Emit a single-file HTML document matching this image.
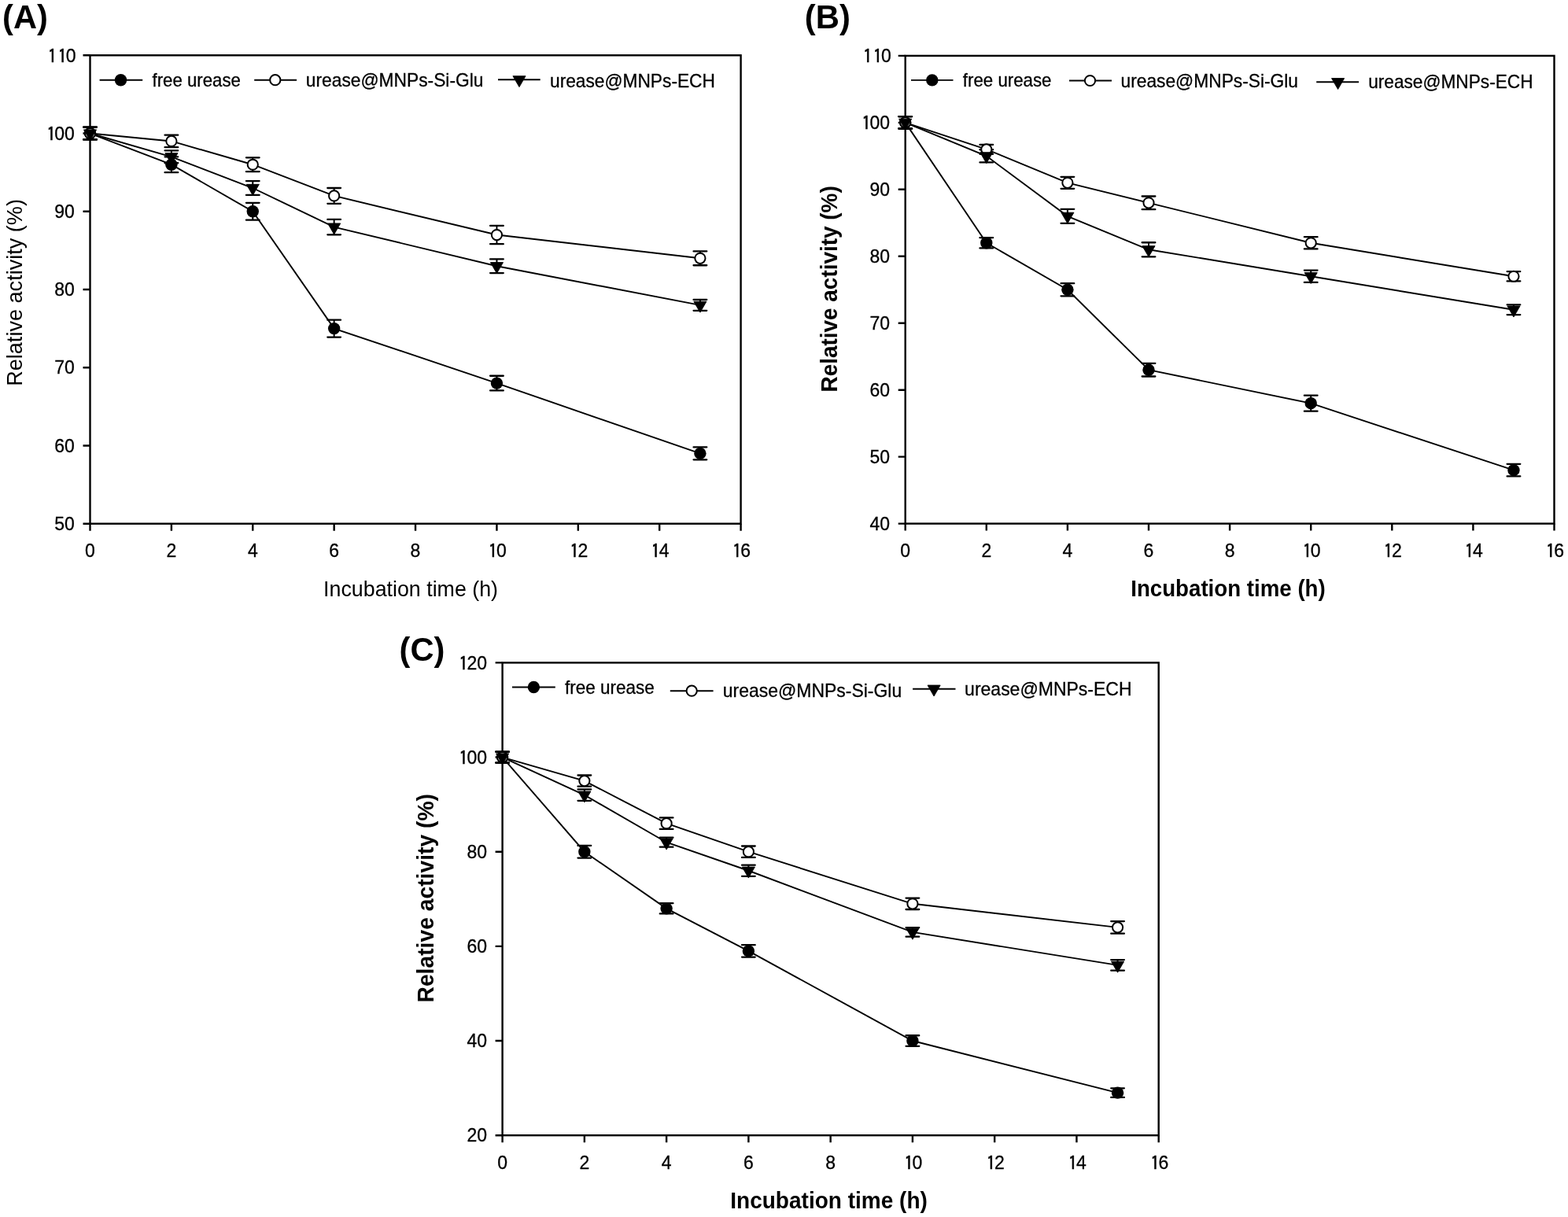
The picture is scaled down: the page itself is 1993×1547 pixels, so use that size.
<!DOCTYPE html>
<html><head><meta charset="utf-8"><title>Relative activity vs incubation time</title>
<style>html,body{margin:0;padding:0;background:#fff;width:1993px;height:1547px;overflow:hidden}svg{display:block}
text{font-family:"Liberation Sans",Arial,sans-serif;fill:#000}text.r{stroke:#000;stroke-width:.3px}tspan.one{font-family:IPAGothic,"Liberation Sans",sans-serif;font-size:23.3px;stroke-width:.5px}</style></head>
<body><svg width="1993" height="1547" viewBox="0 0 1993 1547">
<rect width="1993" height="1547" fill="#fff"/>
<text x="3.12" y="35.7" font-size="42.7" font-weight="bold" textLength="57.68" lengthAdjust="spacingAndGlyphs">(A)</text>
<text x="1022.81" y="35.6" font-size="42.7" font-weight="bold" textLength="58.01" lengthAdjust="spacingAndGlyphs">(B)</text>
<text x="507.52" y="840.1" font-size="42.7" font-weight="bold" textLength="57.79" lengthAdjust="spacingAndGlyphs">(C)</text>
<rect x="114.5" y="70.3" width="827.1" height="595.4" fill="none" stroke="#000" stroke-width="2.4"/>
<path d="M114.5 665.7v9M217.89 665.7v9M321.27 665.7v9M424.66 665.7v9M528.05 665.7v9M631.44 665.7v9M734.83 665.7v9M838.21 665.7v9M941.6 665.7v9M114.5 665.7h-9M114.5 566.47h-9M114.5 467.23h-9M114.5 368h-9M114.5 268.77h-9M114.5 169.53h-9M114.5 70.3h-9" stroke="#000" stroke-width="2.4" fill="none"/>
<text class="r" x="108.12" y="708" font-size="23">0</text>
<text class="r" x="211.5" y="708" font-size="23">2</text>
<text class="r" x="314.95" y="708" font-size="23">4</text>
<text class="r" x="418.22" y="708" font-size="23">6</text>
<text class="r" x="521.61" y="708" font-size="23">8</text>
<text class="r" x="620.87 631.06" y="709.15 708" font-size="23"><tspan class="one">1</tspan>0</text>
<text class="r" x="724.37 734.56" y="709.15 708" font-size="23"><tspan class="one">1</tspan>2</text>
<text class="r" x="827.53 837.72" y="709.15 708" font-size="23"><tspan class="one">1</tspan>4</text>
<text class="r" x="931.09 941.28" y="709.15 708" font-size="23"><tspan class="one">1</tspan>6</text>
<text class="r" x="69.29 82.08" y="673.9 673.9" font-size="23">50</text>
<text class="r" x="69.29 82.08" y="574.67 574.67" font-size="23">60</text>
<text class="r" x="69.29 82.08" y="475.43 475.43" font-size="23">70</text>
<text class="r" x="69.29 82.08" y="376.2 376.2" font-size="23">80</text>
<text class="r" x="69.29 82.08" y="276.97 276.97" font-size="23">90</text>
<text class="r" x="59.13 69.32 82.11" y="178.88 177.73 177.73" font-size="23"><tspan class="one">1</tspan>00</text>
<text class="r" x="60.74 73.53 83.72" y="79.65 79.65 78.5" font-size="23"><tspan class="one">1</tspan><tspan class="one">1</tspan>0</text>
<path d="M114.5 161.59V177.47M217.89 199.3V219.15M321.27 257.85V279.68M424.66 406.7V428.53M631.44 477.75V496.41M889.91 568.45V584.33" stroke="#000" stroke-width="2" fill="none"/>
<path d="M106.15 161.59h16.7M106.15 177.47h16.7M209.54 199.3h16.7M209.54 219.15h16.7M312.92 257.85h16.7M312.92 279.68h16.7M416.31 406.7h16.7M416.31 428.53h16.7M623.09 477.75h16.7M623.09 496.41h16.7M881.56 568.45h16.7M881.56 584.33h16.7" stroke="#000" stroke-width="2.3" fill="none" stroke-linecap="round"/>
<path d="M114.5 161.59V177.47M217.89 171.72V187.2M321.27 200.3V218.16M424.66 239V258.84M631.44 286.93V310.15M889.91 319.38V337.24" stroke="#000" stroke-width="2" fill="none"/>
<path d="M106.15 161.59h16.7M106.15 177.47h16.7M209.54 171.72h16.7M209.54 187.2h16.7M312.92 200.3h16.7M312.92 218.16h16.7M416.31 239h16.7M416.31 258.84h16.7M623.09 286.93h16.7M623.09 310.15h16.7M881.56 319.38h16.7M881.56 337.24h16.7" stroke="#000" stroke-width="2.3" fill="none" stroke-linecap="round"/>
<path d="M114.5 161.59V177.47M217.89 191.36V207.24M321.27 230.07V247.93M424.66 278.89V298.34M631.44 329.4V347.06M889.91 380.9V394.79" stroke="#000" stroke-width="2" fill="none"/>
<path d="M106.15 161.59h16.7M106.15 177.47h16.7M209.54 191.36h16.7M209.54 207.24h16.7M312.92 230.07h16.7M312.92 247.93h16.7M416.31 278.89h16.7M416.31 298.34h16.7M623.09 329.4h16.7M623.09 347.06h16.7M881.56 380.9h16.7M881.56 394.79h16.7" stroke="#000" stroke-width="2.3" fill="none" stroke-linecap="round"/>
<polyline points="114.5,169.53 217.89,209.23 321.27,268.77 424.66,417.62 631.44,487.08 889.91,576.39" fill="none" stroke="#000" stroke-width="1.9"/>
<polyline points="114.5,169.53 217.89,179.46 321.27,209.23 424.66,248.92 631.44,298.54 889.91,328.31" fill="none" stroke="#000" stroke-width="1.9"/>
<polyline points="114.5,169.53 217.89,199.3 321.27,239 424.66,288.61 631.44,338.23 889.91,387.85" fill="none" stroke="#000" stroke-width="1.9"/>
<circle cx="114.5" cy="169.53" r="7.7" fill="#000"/>
<circle cx="217.89" cy="209.23" r="7.7" fill="#000"/>
<circle cx="321.27" cy="268.77" r="7.7" fill="#000"/>
<circle cx="424.66" cy="417.62" r="7.7" fill="#000"/>
<circle cx="631.44" cy="487.08" r="7.7" fill="#000"/>
<circle cx="889.91" cy="576.39" r="7.7" fill="#000"/>
<circle cx="114.5" cy="169.53" r="6.6" fill="#fff" stroke="#000" stroke-width="2"/>
<circle cx="217.89" cy="179.46" r="6.6" fill="#fff" stroke="#000" stroke-width="2"/>
<circle cx="321.27" cy="209.23" r="6.6" fill="#fff" stroke="#000" stroke-width="2"/>
<circle cx="424.66" cy="248.92" r="6.6" fill="#fff" stroke="#000" stroke-width="2"/>
<circle cx="631.44" cy="298.54" r="6.6" fill="#fff" stroke="#000" stroke-width="2"/>
<circle cx="889.91" cy="328.31" r="6.6" fill="#fff" stroke="#000" stroke-width="2"/>
<path d="M106.45 164.88L122.55 164.88L114.5 178.83Z" fill="#000" stroke="#000" stroke-width="0.9" stroke-linejoin="round"/>
<path d="M209.83 194.65L225.94 194.65L217.89 208.6Z" fill="#000" stroke="#000" stroke-width="0.9" stroke-linejoin="round"/>
<path d="M313.22 234.35L329.33 234.35L321.27 248.3Z" fill="#000" stroke="#000" stroke-width="0.9" stroke-linejoin="round"/>
<path d="M416.61 283.96L432.72 283.96L424.66 297.91Z" fill="#000" stroke="#000" stroke-width="0.9" stroke-linejoin="round"/>
<path d="M623.38 333.58L639.49 333.58L631.44 347.53Z" fill="#000" stroke="#000" stroke-width="0.9" stroke-linejoin="round"/>
<path d="M881.85 383.2L897.96 383.2L889.91 397.15Z" fill="#000" stroke="#000" stroke-width="0.9" stroke-linejoin="round"/>
<path d="M126.6 101.7H181.2" stroke="#000" stroke-width="1.9"/>
<circle cx="153.5" cy="101.7" r="7.7" fill="#000"/>
<text class="r" x="193.57" y="109.7" font-size="24" textLength="112.3" lengthAdjust="spacingAndGlyphs">free urease</text>
<path d="M323.2 101.7H377.1" stroke="#000" stroke-width="1.9"/>
<circle cx="349.8" cy="101.7" r="6.6" fill="#fff" stroke="#000" stroke-width="2"/>
<text class="r" x="388.82" y="110.2" font-size="24" textLength="225.6" lengthAdjust="spacingAndGlyphs">urease@MNPs-Si-Glu</text>
<path d="M633 101.3H686.7" stroke="#000" stroke-width="1.9"/>
<path d="M651.95 96.65L668.05 96.65L660 110.6Z" fill="#000" stroke="#000" stroke-width="0.9" stroke-linejoin="round"/>
<text class="r" x="699.02" y="110.5" font-size="24" textLength="209.9" lengthAdjust="spacingAndGlyphs">urease@MNPs-ECH</text>
<rect x="1150.7" y="70.9" width="824.8" height="594.7" fill="none" stroke="#000" stroke-width="2.4"/>
<path d="M1150.7 665.6v9M1253.8 665.6v9M1356.9 665.6v9M1460 665.6v9M1563.1 665.6v9M1666.2 665.6v9M1769.3 665.6v9M1872.4 665.6v9M1975.5 665.6v9M1150.7 665.6h-9M1150.7 580.64h-9M1150.7 495.69h-9M1150.7 410.73h-9M1150.7 325.77h-9M1150.7 240.81h-9M1150.7 155.86h-9M1150.7 70.9h-9" stroke="#000" stroke-width="2.4" fill="none"/>
<text class="r" x="1144.32" y="708" font-size="23">0</text>
<text class="r" x="1247.42" y="708" font-size="23">2</text>
<text class="r" x="1350.58" y="708" font-size="23">4</text>
<text class="r" x="1453.56" y="708" font-size="23">6</text>
<text class="r" x="1556.66" y="708" font-size="23">8</text>
<text class="r" x="1655.63 1665.82" y="709.15 708" font-size="23"><tspan class="one">1</tspan>0</text>
<text class="r" x="1758.85 1769.04" y="709.15 708" font-size="23"><tspan class="one">1</tspan>2</text>
<text class="r" x="1861.72 1871.91" y="709.15 708" font-size="23"><tspan class="one">1</tspan>4</text>
<text class="r" x="1964.99 1975.18" y="709.15 708" font-size="23"><tspan class="one">1</tspan>6</text>
<text class="r" x="1105.49 1118.28" y="673.8 673.8" font-size="23">40</text>
<text class="r" x="1105.49 1118.28" y="588.84 588.84" font-size="23">50</text>
<text class="r" x="1105.49 1118.28" y="503.89 503.89" font-size="23">60</text>
<text class="r" x="1105.49 1118.28" y="418.93 418.93" font-size="23">70</text>
<text class="r" x="1105.49 1118.28" y="333.97 333.97" font-size="23">80</text>
<text class="r" x="1105.49 1118.28" y="249.01 249.01" font-size="23">90</text>
<text class="r" x="1095.33 1105.52 1118.31" y="165.21 164.06 164.06" font-size="23"><tspan class="one">1</tspan>00</text>
<text class="r" x="1096.93 1109.73 1119.92" y="80.25 80.25 79.1" font-size="23"><tspan class="one">1</tspan><tspan class="one">1</tspan>0</text>
<path d="M1150.7 148.21V163.5M1253.8 302.15V315.41M1356.9 360.18V376.32M1460 461.87V478.52M1666.2 502.65V522.7M1923.95 589.82V605.45" stroke="#000" stroke-width="2" fill="none"/>
<path d="M1142.35 148.21h16.7M1142.35 163.5h16.7M1245.45 302.15h16.7M1245.45 315.41h16.7M1348.55 360.18h16.7M1348.55 376.32h16.7M1451.65 461.87h16.7M1451.65 478.52h16.7M1657.85 502.65h16.7M1657.85 522.7h16.7M1915.6 589.82h16.7M1915.6 605.45h16.7" stroke="#000" stroke-width="2.3" fill="none" stroke-linecap="round"/>
<path d="M1150.7 148.21V163.5M1253.8 183.89V195.79M1356.9 224.84V239.79M1460 249.48V266.13M1666.2 301.13V316.43M1923.95 345.06V357.46" stroke="#000" stroke-width="2" fill="none"/>
<path d="M1142.35 148.21h16.7M1142.35 163.5h16.7M1245.45 183.89h16.7M1245.45 195.79h16.7M1348.55 224.84h16.7M1348.55 239.79h16.7M1451.65 249.48h16.7M1451.65 266.13h16.7M1657.85 301.13h16.7M1657.85 316.43h16.7M1915.6 345.06h16.7M1915.6 357.46h16.7" stroke="#000" stroke-width="2.3" fill="none" stroke-linecap="round"/>
<path d="M1150.7 148.21V163.5M1253.8 190.26V206.41M1356.9 265.79V283.8M1460 308.27V326.28M1666.2 343.61V358.9M1923.95 387.37V400.11" stroke="#000" stroke-width="2" fill="none"/>
<path d="M1142.35 148.21h16.7M1142.35 163.5h16.7M1245.45 190.26h16.7M1245.45 206.41h16.7M1348.55 265.79h16.7M1348.55 283.8h16.7M1451.65 308.27h16.7M1451.65 326.28h16.7M1657.85 343.61h16.7M1657.85 358.9h16.7M1915.6 387.37h16.7M1915.6 400.11h16.7" stroke="#000" stroke-width="2.3" fill="none" stroke-linecap="round"/>
<polyline points="1150.7,155.86 1253.8,308.78 1356.9,368.25 1460,470.2 1666.2,512.68 1923.95,597.63" fill="none" stroke="#000" stroke-width="1.9"/>
<polyline points="1150.7,155.86 1253.8,189.84 1356.9,232.32 1460,257.81 1666.2,308.78 1923.95,351.26" fill="none" stroke="#000" stroke-width="1.9"/>
<polyline points="1150.7,155.86 1253.8,198.34 1356.9,274.8 1460,317.28 1666.2,351.26 1923.95,393.74" fill="none" stroke="#000" stroke-width="1.9"/>
<circle cx="1150.7" cy="155.86" r="7.7" fill="#000"/>
<circle cx="1253.8" cy="308.78" r="7.7" fill="#000"/>
<circle cx="1356.9" cy="368.25" r="7.7" fill="#000"/>
<circle cx="1460" cy="470.2" r="7.7" fill="#000"/>
<circle cx="1666.2" cy="512.68" r="7.7" fill="#000"/>
<circle cx="1923.95" cy="597.63" r="7.7" fill="#000"/>
<circle cx="1150.7" cy="155.86" r="6.6" fill="#fff" stroke="#000" stroke-width="2"/>
<circle cx="1253.8" cy="189.84" r="6.6" fill="#fff" stroke="#000" stroke-width="2"/>
<circle cx="1356.9" cy="232.32" r="6.6" fill="#fff" stroke="#000" stroke-width="2"/>
<circle cx="1460" cy="257.81" r="6.6" fill="#fff" stroke="#000" stroke-width="2"/>
<circle cx="1666.2" cy="308.78" r="6.6" fill="#fff" stroke="#000" stroke-width="2"/>
<circle cx="1923.95" cy="351.26" r="6.6" fill="#fff" stroke="#000" stroke-width="2"/>
<path d="M1142.65 151.21L1158.75 151.21L1150.7 165.16Z" fill="#000" stroke="#000" stroke-width="0.9" stroke-linejoin="round"/>
<path d="M1245.75 193.69L1261.85 193.69L1253.8 207.64Z" fill="#000" stroke="#000" stroke-width="0.9" stroke-linejoin="round"/>
<path d="M1348.85 270.15L1364.95 270.15L1356.9 284.1Z" fill="#000" stroke="#000" stroke-width="0.9" stroke-linejoin="round"/>
<path d="M1451.95 312.63L1468.05 312.63L1460 326.58Z" fill="#000" stroke="#000" stroke-width="0.9" stroke-linejoin="round"/>
<path d="M1658.15 346.61L1674.25 346.61L1666.2 360.56Z" fill="#000" stroke="#000" stroke-width="0.9" stroke-linejoin="round"/>
<path d="M1915.9 389.09L1932 389.09L1923.95 403.04Z" fill="#000" stroke="#000" stroke-width="0.9" stroke-linejoin="round"/>
<path d="M1158 101.9H1211.5" stroke="#000" stroke-width="1.9"/>
<circle cx="1184.8" cy="101.9" r="7.7" fill="#000"/>
<text class="r" x="1223.87" y="109.5" font-size="24" textLength="112.61" lengthAdjust="spacingAndGlyphs">free urease</text>
<path d="M1359 102.5H1413" stroke="#000" stroke-width="1.9"/>
<circle cx="1385.5" cy="102.5" r="6.6" fill="#fff" stroke="#000" stroke-width="2"/>
<text class="r" x="1424.52" y="110.6" font-size="24" textLength="225.5" lengthAdjust="spacingAndGlyphs">urease@MNPs-Si-Glu</text>
<path d="M1673.2 104.2H1727.1" stroke="#000" stroke-width="1.9"/>
<path d="M1692.55 99.55L1708.65 99.55L1700.6 113.5Z" fill="#000" stroke="#000" stroke-width="0.9" stroke-linejoin="round"/>
<text class="r" x="1739.13" y="111.6" font-size="24" textLength="209.49" lengthAdjust="spacingAndGlyphs">urease@MNPs-ECH</text>
<rect x="638.6" y="842.4" width="834.1" height="600.8" fill="none" stroke="#000" stroke-width="2.4"/>
<path d="M638.6 1443.2v9M742.86 1443.2v9M847.12 1443.2v9M951.39 1443.2v9M1055.65 1443.2v9M1159.91 1443.2v9M1264.18 1443.2v9M1368.44 1443.2v9M1472.7 1443.2v9M638.6 1443.2h-9M638.6 1323.04h-9M638.6 1202.88h-9M638.6 1082.72h-9M638.6 962.56h-9M638.6 842.4h-9" stroke="#000" stroke-width="2.4" fill="none"/>
<text class="r" x="632.22" y="1485.5" font-size="23">0</text>
<text class="r" x="736.48" y="1485.5" font-size="23">2</text>
<text class="r" x="840.8" y="1485.5" font-size="23">4</text>
<text class="r" x="944.95" y="1485.5" font-size="23">6</text>
<text class="r" x="1049.21" y="1485.5" font-size="23">8</text>
<text class="r" x="1149.34 1159.54" y="1486.65 1485.5" font-size="23"><tspan class="one">1</tspan>0</text>
<text class="r" x="1253.72 1263.91" y="1486.65 1485.5" font-size="23"><tspan class="one">1</tspan>2</text>
<text class="r" x="1357.75 1367.95" y="1486.65 1485.5" font-size="23"><tspan class="one">1</tspan>4</text>
<text class="r" x="1462.19 1472.38" y="1486.65 1485.5" font-size="23"><tspan class="one">1</tspan>6</text>
<text class="r" x="593.39 606.18" y="1451.4 1451.4" font-size="23">20</text>
<text class="r" x="593.39 606.18" y="1331.24 1331.24" font-size="23">40</text>
<text class="r" x="593.39 606.18" y="1211.08 1211.08" font-size="23">60</text>
<text class="r" x="593.39 606.18" y="1090.92 1090.92" font-size="23">80</text>
<text class="r" x="583.23 593.42 606.21" y="971.91 970.76 970.76" font-size="23"><tspan class="one">1</tspan>00</text>
<text class="r" x="583.23 593.42 606.21" y="851.75 850.6 850.6" font-size="23"><tspan class="one">1</tspan>20</text>
<path d="M638.6 955.53V969.59M742.86 1074.91V1090.53M847.12 1148.21V1161.42M951.39 1201.2V1216.58M1159.91 1316.25V1329.83M1420.57 1383.3V1394.96" stroke="#000" stroke-width="2" fill="none"/>
<path d="M630.25 955.53h16.7M630.25 969.59h16.7M734.51 1074.91h16.7M734.51 1090.53h16.7M838.77 1148.21h16.7M838.77 1161.42h16.7M943.04 1201.2h16.7M943.04 1216.58h16.7M1151.56 1316.25h16.7M1151.56 1329.83h16.7M1412.22 1383.3h16.7M1412.22 1394.96h16.7" stroke="#000" stroke-width="2.3" fill="none" stroke-linecap="round"/>
<path d="M638.6 955.53V969.59M742.86 985.51V999.69M847.12 1039.46V1053.88M951.39 1075.51V1089.93M1159.91 1141.6V1156.02M1420.57 1171.04V1186.66" stroke="#000" stroke-width="2" fill="none"/>
<path d="M630.25 955.53h16.7M630.25 969.59h16.7M734.51 985.51h16.7M734.51 999.69h16.7M838.77 1039.46h16.7M838.77 1053.88h16.7M943.04 1075.51h16.7M943.04 1089.93h16.7M1151.56 1141.6h16.7M1151.56 1156.02h16.7M1412.22 1171.04h16.7M1412.22 1186.66h16.7" stroke="#000" stroke-width="2.3" fill="none" stroke-linecap="round"/>
<path d="M638.6 955.53V969.59M742.86 1003.41V1017.83M847.12 1064.7V1076.71M951.39 1099.72V1113.78M1159.91 1179.03V1190.68M1420.57 1220.12V1233.7" stroke="#000" stroke-width="2" fill="none"/>
<path d="M630.25 955.53h16.7M630.25 969.59h16.7M734.51 1003.41h16.7M734.51 1017.83h16.7M838.77 1064.7h16.7M838.77 1076.71h16.7M943.04 1099.72h16.7M943.04 1113.78h16.7M1151.56 1179.03h16.7M1151.56 1190.68h16.7M1412.22 1220.12h16.7M1412.22 1233.7h16.7" stroke="#000" stroke-width="2.3" fill="none" stroke-linecap="round"/>
<polyline points="638.6,962.56 742.86,1082.72 847.12,1154.82 951.39,1208.89 1159.91,1323.04 1420.57,1389.13" fill="none" stroke="#000" stroke-width="1.9"/>
<polyline points="638.6,962.56 742.86,992.6 847.12,1046.67 951.39,1082.72 1159.91,1148.81 1420.57,1178.85" fill="none" stroke="#000" stroke-width="1.9"/>
<polyline points="638.6,962.56 742.86,1010.62 847.12,1070.7 951.39,1106.75 1159.91,1184.86 1420.57,1226.91" fill="none" stroke="#000" stroke-width="1.9"/>
<circle cx="638.6" cy="962.56" r="7.7" fill="#000"/>
<circle cx="742.86" cy="1082.72" r="7.7" fill="#000"/>
<circle cx="847.12" cy="1154.82" r="7.7" fill="#000"/>
<circle cx="951.39" cy="1208.89" r="7.7" fill="#000"/>
<circle cx="1159.91" cy="1323.04" r="7.7" fill="#000"/>
<circle cx="1420.57" cy="1389.13" r="7.7" fill="#000"/>
<circle cx="638.6" cy="962.56" r="6.6" fill="#fff" stroke="#000" stroke-width="2"/>
<circle cx="742.86" cy="992.6" r="6.6" fill="#fff" stroke="#000" stroke-width="2"/>
<circle cx="847.12" cy="1046.67" r="6.6" fill="#fff" stroke="#000" stroke-width="2"/>
<circle cx="951.39" cy="1082.72" r="6.6" fill="#fff" stroke="#000" stroke-width="2"/>
<circle cx="1159.91" cy="1148.81" r="6.6" fill="#fff" stroke="#000" stroke-width="2"/>
<circle cx="1420.57" cy="1178.85" r="6.6" fill="#fff" stroke="#000" stroke-width="2"/>
<path d="M630.55 957.91L646.65 957.91L638.6 971.86Z" fill="#000" stroke="#000" stroke-width="0.9" stroke-linejoin="round"/>
<path d="M734.81 1005.97L750.92 1005.97L742.86 1019.92Z" fill="#000" stroke="#000" stroke-width="0.9" stroke-linejoin="round"/>
<path d="M839.07 1066.05L855.18 1066.05L847.12 1080Z" fill="#000" stroke="#000" stroke-width="0.9" stroke-linejoin="round"/>
<path d="M943.33 1102.1L959.44 1102.1L951.39 1116.05Z" fill="#000" stroke="#000" stroke-width="0.9" stroke-linejoin="round"/>
<path d="M1151.86 1180.21L1167.97 1180.21L1159.91 1194.16Z" fill="#000" stroke="#000" stroke-width="0.9" stroke-linejoin="round"/>
<path d="M1412.51 1222.26L1428.62 1222.26L1420.57 1236.21Z" fill="#000" stroke="#000" stroke-width="0.9" stroke-linejoin="round"/>
<path d="M651 873.5H705.8" stroke="#000" stroke-width="1.9"/>
<circle cx="678.4" cy="873.5" r="7.7" fill="#000"/>
<text class="r" x="718.06" y="882" font-size="24" textLength="113.62" lengthAdjust="spacingAndGlyphs">free urease</text>
<path d="M851.8 878.2H906.6" stroke="#000" stroke-width="1.9"/>
<circle cx="879.2" cy="878.2" r="6.6" fill="#fff" stroke="#000" stroke-width="2"/>
<text class="r" x="918.81" y="885.6" font-size="24" textLength="227.42" lengthAdjust="spacingAndGlyphs">urease@MNPs-Si-Glu</text>
<path d="M1160.1 875.7H1214.5" stroke="#000" stroke-width="1.9"/>
<path d="M1179.05 871.05L1195.15 871.05L1187.1 885Z" fill="#000" stroke="#000" stroke-width="0.9" stroke-linejoin="round"/>
<text class="r" x="1226.11" y="883.5" font-size="24" textLength="212.44" lengthAdjust="spacingAndGlyphs">urease@MNPs-ECH</text>
<text x="411.09" y="757.6" font-size="28.5" textLength="221.97" lengthAdjust="spacingAndGlyphs">Incubation time (h)</text>
<text x="1437.2" y="758" font-size="29" font-weight="bold" textLength="247.56" lengthAdjust="spacingAndGlyphs">Incubation time (h)</text>
<text x="928.28" y="1536" font-size="29" font-weight="bold" textLength="250.6" lengthAdjust="spacingAndGlyphs">Incubation time (h)</text>
<text transform="translate(27.7,488.7) rotate(-90)" x="-2.17" y="0" font-size="28.5" textLength="237.83" lengthAdjust="spacingAndGlyphs">Relative activity (%)</text>
<text transform="translate(1064.1,496.7) rotate(-90)" x="-1.81" y="0" font-size="29" font-weight="bold" textLength="262.25" lengthAdjust="spacingAndGlyphs">Relative activity (%)</text>
<text transform="translate(551.4,1272.7) rotate(-90)" x="-1.84" y="0" font-size="29" font-weight="bold" textLength="265.49" lengthAdjust="spacingAndGlyphs">Relative activity (%)</text>
</svg></body></html>
